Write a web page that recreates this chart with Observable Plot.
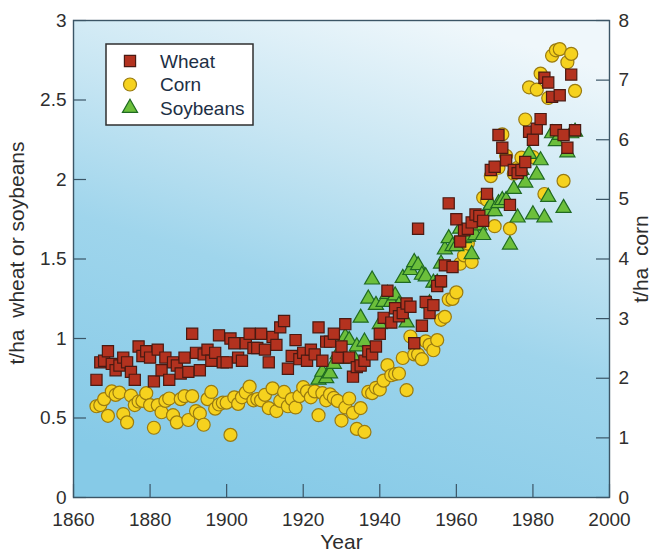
<!DOCTYPE html>
<html>
<head>
<meta charset="utf-8">
<script src="https://cdn.jsdelivr.net/npm/d3@7"></script>
<script src="https://cdn.jsdelivr.net/npm/@observablehq/plot@0.6"></script>
<style>
html, body { margin: 0; padding: 0; background: #ffffff; }
#chart { width: 652px; height: 557px; }
</style>
</head>
<body>
<div id="chart"></div>
<script>
// ---------- data ----------
const xTicks = [1860, 1880, 1900, 1920, 1940, 1960, 1980, 2000];
const leftTicks = [0, 0.5, 1, 1.5, 2, 2.5, 3];
const rightTicks = [0, 1, 2, 3, 4, 5, 6, 7, 8];
const seriesNames = ["Wheat", "Corn", "Soybeans"];
const xLabel = "Year";
const yLeftLabel = "t/ha\u00a0 wheat or soybeans";
const yRightLabel = "t/ha\u00a0 corn";

const wheatYears = d3.range(1866, 1992);
const wheatValues = [
  0.74, 0.85, 0.86, 0.92, 0.84, 0.80, 0.83, 0.88, 0.85, 0.79, // 1866-1875
  0.74, 0.95, 0.89, 0.92, 0.88, 0.73, 0.93, 0.80, 0.88, 0.74, // 1876-1885
  0.85, 0.83, 0.78, 0.88, 0.79, 1.03, 0.91, 0.80, 0.90, 0.93, // 1886-1895
  0.86, 0.91, 1.02, 0.85, 0.85, 1.00, 0.97, 0.88, 0.86, 0.97, // 1896-1905
  1.03, 0.94, 0.94, 1.03, 0.93, 0.85, 1.01, 0.96, 1.07, 1.11, // 1906-1915
  0.81, 0.89, 0.99, 0.87, 0.91, 0.86, 0.93, 0.90, 1.07, 0.86, // 1916-1925
  0.98, 0.98, 1.03, 0.88, 0.95, 1.09, 0.88, 0.76, 0.82, 0.83, // 1926-1935
  0.86, 0.92, 0.90, 0.95, 1.03, 1.13, 1.30, 1.10, 1.19, 1.14, // 1936-1945
  1.16, 1.22, 1.20, 0.97, 1.69, 1.08, 1.23, 1.16, 1.21, 1.33, // 1946-1955
  1.36, 1.46, 1.85, 1.45, 1.75, 1.61, 1.68, 1.69, 1.73, 1.78, // 1956-1965
  1.77, 1.74, 1.91, 2.06, 2.08, 2.28, 2.20, 2.12, 1.84, 2.06, // 1966-1975
  2.04, 2.06, 2.11, 2.30, 2.25, 2.32, 2.38, 2.64, 2.61, 2.52, // 1976-1985
  2.31, 2.53, 2.28, 2.20, 2.66, 2.31                          // 1986-1991
];

const cornYears = d3.range(1866, 1992);
const cornValues = [
  1.53, 1.55, 1.65, 1.37, 1.78, 1.72, 1.76, 1.40, 1.26, 1.71, // 1866-1875
  1.55, 1.61, 1.62, 1.75, 1.55, 1.17, 1.55, 1.43, 1.62, 1.66, // 1876-1885
  1.38, 1.26, 1.65, 1.70, 1.30, 1.70, 1.45, 1.41, 1.22, 1.65, // 1886-1895
  1.77, 1.49, 1.56, 1.59, 1.59, 1.05, 1.68, 1.57, 1.68, 1.76, // 1896-1905
  1.86, 1.63, 1.65, 1.63, 1.72, 1.50, 1.83, 1.45, 1.62, 1.77, // 1906-1915
  1.53, 1.65, 1.51, 1.70, 1.85, 1.78, 1.68, 1.78, 1.38, 1.75, // 1916-1925
  1.63, 1.73, 1.67, 1.62, 1.29, 1.51, 1.66, 1.42, 1.15, 1.50, // 1926-1935
  1.10, 1.77, 1.75, 1.84, 1.81, 1.96, 2.22, 2.05, 2.07, 2.08, // 1936-1945
  2.34, 1.80, 2.70, 2.40, 2.40, 2.32, 2.62, 2.56, 2.47, 2.64, // 1946-1955
  2.98, 3.03, 3.32, 3.33, 3.44, 3.92, 4.06, 4.26, 3.95, 4.65, // 1956-1965
  4.59, 5.03, 4.99, 5.39, 4.55, 5.53, 6.09, 5.73, 4.51, 5.43, // 1966-1975
  5.53, 5.70, 6.34, 6.88, 5.71, 6.84, 7.11, 5.09, 6.70, 7.41, // 1976-1985
  7.50, 7.52, 5.31, 7.30, 7.44, 6.82                          // 1986-1991
];

const soyYears = d3.range(1924, 1992);
const soyValues = [
  0.74, 0.79, 0.75, 0.78, 0.84, 0.90, 0.87, 1.01, 0.99, 0.89, // 1924-1933
  0.95, 1.13, 0.98, 1.25, 1.37, 1.21, 1.09, 1.23, 1.28, 1.23, // 1934-1943
  1.27, 1.21, 1.38, 1.10, 1.43, 1.48, 1.46, 1.40, 1.39, 1.22, // 1944-1953
  1.35, 1.35, 1.47, 1.56, 1.63, 1.58, 1.58, 1.69, 1.63, 1.64, // 1954-1963
  1.53, 1.65, 1.71, 1.65, 1.80, 1.84, 1.80, 1.85, 1.87, 1.87, // 1964-1973
  1.59, 1.94, 1.76, 2.06, 1.98, 2.16, 1.78, 2.03, 2.12, 1.76, // 1974-1983
  1.89, 2.29, 2.24, 2.28, 1.82, 2.17, 2.29, 2.30              // 1984-1991
];

// ---------- layout / styles ----------
const W = 652, H = 557;
const mL = 73, mR = 43, mT = 20, mB = 60;
const plotW = W - mL - mR, plotH = H - mT - mB;
const cornToLeft = 3 / 8; // right axis (0-8) mapped onto left axis (0-3)
const font = "'Liberation Sans', Arial, Helvetica, sans-serif";
const axisColor = "#3b5566";
const textColor = "#2e2e2e";
const tickFont = 19;
const titleFont = 21;

const symbolsD3 = [d3.symbolSquare, d3.symbolCircle, d3.symbolTriangle];
const symbolsPlot = ["square", "circle", "triangle"];
const radii = [6.3, 6.5, 5.6];
const fills = ["#b3321f", "#f6d21e", "#6cbf3b"];
const strokes = ["#4a1a12", "#9a7b10", "#1f6a22"];

const wheat = wheatYears.map((y, i) => ({year: y, value: wheatValues[i]}));
const corn = cornYears.map((y, i) => ({year: y, value: cornValues[i]}));
const soy = soyYears.map((y, i) => ({year: y, value: soyValues[i]}));

function defsMark() {
  const defs = d3.create("svg:defs");
  const lg = defs.append("linearGradient")
    .attr("id", "bgGrad")
    .attr("x1", "0.7").attr("y1", "0")
    .attr("x2", "0.35").attr("y2", "1");
  [[0, "#eff7fb"], [0.3, "#c8e6f3"], [0.58, "#9fd5ec"], [1, "#86cae7"]]
    .forEach(([o, c]) => lg.append("stop").attr("offset", o).attr("stop-color", c));
  return defs.node();
}

function legendMark(index, scales, values, dims) {
  const g = d3.create("svg:g")
    .attr("font-family", font)
    .attr("font-size", tickFont)
    .attr("text-anchor", "start");
  const x0 = dims.marginLeft + 33, y0 = dims.marginTop + 24;
  g.append("rect")
    .attr("x", x0).attr("y", y0)
    .attr("width", 147).attr("height", 81)
    .attr("fill", "#ffffff")
    .attr("stroke", "#2f2f2f")
    .attr("stroke-width", 1.5);
  seriesNames.forEach((name, i) => {
    const cy = y0 + 17 + i * 23.5;
    g.append("path")
      .attr("transform", `translate(${x0 + 24},${cy})`)
      .attr("d", d3.symbol(symbolsD3[i], radii[i] * radii[i] * Math.PI)())
      .attr("fill", fills[i])
      .attr("stroke", strokes[i])
      .attr("stroke-width", 1.2);
    g.append("text")
      .attr("x", x0 + 54).attr("y", cy)
      .attr("dy", "0.36em")
      .attr("text-anchor", "start")
      .attr("fill", "#1d2f45")
      .text(name);
  });
  return g.node();
}

const chart = Plot.plot({
  width: W,
  height: H,
  marginLeft: mL,
  marginRight: mR,
  marginTop: mT,
  marginBottom: mB,
  style: {fontFamily: font, fontSize: tickFont + "px", color: textColor, background: "#ffffff", overflow: "visible"},
  x: {domain: [1860, 2000]},
  y: {domain: [0, 3]},
  marks: [
    defsMark,
    Plot.frame({fill: "url(#bgGrad)", stroke: null}),
    Plot.dot(corn, {x: "year", y: d => d.value * cornToLeft, symbol: symbolsPlot[1], r: radii[1],
      fill: fills[1], stroke: strokes[1], strokeWidth: 1.2}),
    Plot.dot(soy, {x: "year", y: "value", symbol: symbolsPlot[2], r: radii[2],
      fill: fills[2], stroke: strokes[2], strokeWidth: 1.2}),
    Plot.dot(wheat, {x: "year", y: "value", symbol: symbolsPlot[0], r: radii[0],
      fill: fills[0], stroke: strokes[0], strokeWidth: 1.2}),
    Plot.tickY(leftTicks, {y: d => d, insetRight: plotW - 13, stroke: axisColor, strokeWidth: 1.2}),
    Plot.tickY(rightTicks.map(v => v * cornToLeft), {y: d => d, insetLeft: plotW - 13, stroke: axisColor, strokeWidth: 1.2}),
    Plot.tickX(xTicks, {x: d => d, insetTop: plotH - 13, stroke: axisColor, strokeWidth: 1.2}),
    Plot.axisY({ticks: leftTicks, anchor: "left", tickSize: 0, tickPadding: 7,
      tickFormat: d => String(d), label: null, fontSize: tickFont}),
    Plot.axisY({ticks: rightTicks.map(v => v * cornToLeft), anchor: "right", tickSize: 0, tickPadding: 9,
      tickFormat: d => String(Math.round(d / cornToLeft)), label: null, fontSize: tickFont}),
    Plot.axisX({ticks: xTicks, anchor: "bottom", tickSize: 0, tickPadding: 15,
      tickFormat: d => String(d), label: null, fontSize: tickFont}),
    Plot.frame({stroke: axisColor, strokeWidth: 1.4}),
    Plot.text([yLeftLabel], {frameAnchor: "left", textAnchor: "middle", rotate: -90, dx: -56, dy: -6,
      fontSize: titleFont, fill: textColor}),
    Plot.text([yRightLabel], {frameAnchor: "right", textAnchor: "middle", rotate: -90, dx: 32,
      fontSize: titleFont, fill: textColor}),
    Plot.text([xLabel], {frameAnchor: "bottom", dy: 51, fontSize: titleFont, fill: textColor}),
    legendMark
  ]
});

document.getElementById("chart").appendChild(chart);
</script>
</body>
</html>
